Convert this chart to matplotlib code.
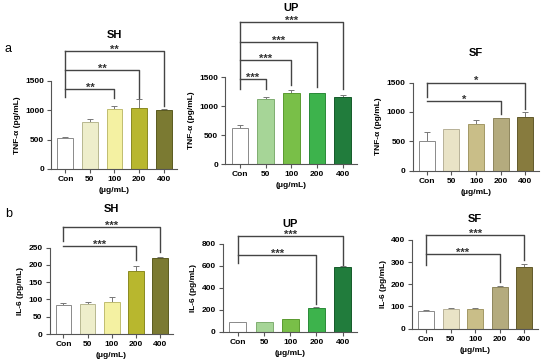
import matplotlib
matplotlib.use("Agg")
import matplotlib.pyplot as plt

plt.rcParams['font.family'] = ['Liberation Sans', 'DejaVu Sans']

# doses on the x axis
doses = ["Con", "50", "100", "200", "400"]

# TNF-a (pg/mL), mean and upper error
tnf_sh = [530, 800, 1022, 1045, 1000]
tnf_sh_err = [15, 58, 50, 140, 15]
tnf_up = [625, 1125, 1225, 1220, 1165]
tnf_up_err = [45, 30, 60, 8, 20]
tnf_sf = [506, 704, 801, 892, 914]
tnf_sf_err = [160, 10, 55, 10, 90]

# IL-6 (pg/mL)
il6_sh = [85, 88, 93, 182, 219]
il6_sh_err = [5, 5, 15, 14, 5]
il6_up = [88, 92, 118, 220, 588]
il6_up_err = [4, 3, 4, 6, 8]
il6_sf = [79, 87, 89, 186, 276]
il6_sf_err = [5, 5, 6, 7, 15]

# significance brackets: (end bar, bracket height, right leg end, stars)
br_tnf_sh = [(2, 1363, 1205, "**"), (3, 1676, 1205, "**"), (4, 2000, 1074, "**")]
br_tnf_up = [(1, 1472, 1294, "***"), (2, 1794, 1369, "***"),
             (3, 2110, 1328, "***"), (4, 2444, 1294, "***")]
br_tnf_sf = [(3, 1187, 966, "*"), (4, 1500, 1045, "*")]
br_il6_sh = [(3, 255, 214, "***"), (4, 308, 238, "***")]
br_il6_up = [(3, 697, 255, "***"), (4, 870, 612, "***")]
br_il6_sf = [(3, 337, 210, "***"), (4, 421, 311, "***")]
# where the Con leg of the brackets stops
left_leg = {"tnf_sh": 1230, "tnf_up": 1290, "tnf_sf": 1260,
            "il6_sh": 270, "il6_up": 627, "il6_sf": 288}

col_sh = ["white", "#eeeecb", "#f4f1a2", "#b8b72e", "#7b7a32"]
col_up = ["white", "#a6d597", "#79bf48", "#3db34c", "#217c3c"]
col_sf = ["white", "#e9e3c6", "#c9be88", "#b4ab7e", "#877b3e"]
edge_sh = ["#8a8a8a", "#b8b890", "#c0bd70", "#8a8a20", "#5a5a20"]
edge_up = ["#8a8a8a", "#7fae70", "#5a9a30", "#2a8a38", "#155a2a"]
edge_sf = ["#8a8a8a", "#b8b298", "#a39866", "#8e865e", "#62592a"]

fig = plt.figure(figsize=(5.5, 3.64), dpi=100)

panels = [
    ("SH", tnf_sh, tnf_sh_err, br_tnf_sh, left_leg["tnf_sh"], col_sh, edge_sh,
     [0, 500, 1000, 1500], "TNF-α (pg/mL)", (0.093, 0.536, 0.229, 0.242), 0.904),
    ("UP", tnf_up, tnf_up_err, br_tnf_up, left_leg["tnf_up"], col_up, edge_up,
     [0, 500, 1000, 1500], "TNF-α (pg/mL)", (0.409, 0.549, 0.240, 0.239), 0.978),
    ("SF", tnf_sf, tnf_sf_err, br_tnf_sf, left_leg["tnf_sf"], col_sf, edge_sf,
     [0, 500, 1000, 1500], "TNF-α (pg/mL)", (0.750, 0.531, 0.230, 0.242), 0.854),
    ("SH", il6_sh, il6_sh_err, br_il6_sh, left_leg["il6_sh"], col_sh, edge_sh,
     [0, 50, 100, 150, 200, 250], "IL-6 (pg/mL)", (0.090, 0.082, 0.225, 0.238), 0.426),
    ("UP", il6_up, il6_up_err, br_il6_up, left_leg["il6_up"], col_up, edge_up,
     [0, 200, 400, 600, 800], "IL-6 (pg/mL)", (0.405, 0.088, 0.244, 0.242), 0.385),
    ("SF", il6_sf, il6_sf_err, br_il6_sf, left_leg["il6_sf"], col_sf, edge_sf,
     [0, 100, 200, 300, 400], "IL-6 (pg/mL)", (0.749, 0.097, 0.229, 0.244), 0.398),
]

line_col = "#444444"
for title, vals, errs, brackets, lleg, cols, edges, yt, ylab, rect, ty in panels:
    ax = fig.add_axes(rect)
    x = range(len(doses))
    ax.bar(x, vals, width=0.65, color=cols, edgecolor=edges, linewidth=0.7, zorder=2)
    ax.errorbar(x, vals, yerr=[[0] * len(errs), errs], fmt="none",
                ecolor="#777777", elinewidth=0.7, capsize=2, capthick=0.7, zorder=1)
    ax.set_xlim(-0.58, 4.55)
    ax.set_ylim(0, yt[-1])
    ax.set_yticks(yt)
    ax.set_xticks(list(x))
    ax.set_xticklabels(doses)
    for s in ["top", "right"]:
        ax.spines[s].set_visible(False)
    for s in ["left", "bottom"]:
        ax.spines[s].set_color("#555555")
        ax.spines[s].set_linewidth(0.8)
    ax.tick_params(axis="both", length=3, width=0.8, color="#555555",
                   labelsize=6, pad=2)
    for lab in ax.get_xticklabels() + ax.get_yticklabels():
        lab.set_fontweight("bold")
    ax.set_ylabel(ylab, fontsize=6, fontweight="bold", labelpad=3)
    ax.set_xlabel("(μg/mL)", fontsize=6, fontweight="bold", labelpad=3)
    ax.patch.set_alpha(0)

    top = max(b[1] for b in brackets)
    ax.plot([0, 0], [lleg, top], color=line_col, lw=1, clip_on=False)
    for end, h, rleg, stars in brackets:
        ax.plot([0, end, end], [h, h, rleg], color=line_col, lw=1, clip_on=False)
        ax.annotate(stars, (end / 2, h), xytext=(0, -1.2), textcoords="offset points",
                    ha="center", va="baseline", fontsize=8, fontweight="bold",
                    color="#333333", annotation_clip=False)

    fig.text(rect[0] + rect[2] / 2, ty, title, ha="center", va="center",
             fontsize=8, fontweight="bold")

fig.text(0.009, 0.865, "a", fontsize=9, va="center")
fig.text(0.009, 0.412, "b", fontsize=9, va="center")

fig.savefig("out.png", dpi=100)
